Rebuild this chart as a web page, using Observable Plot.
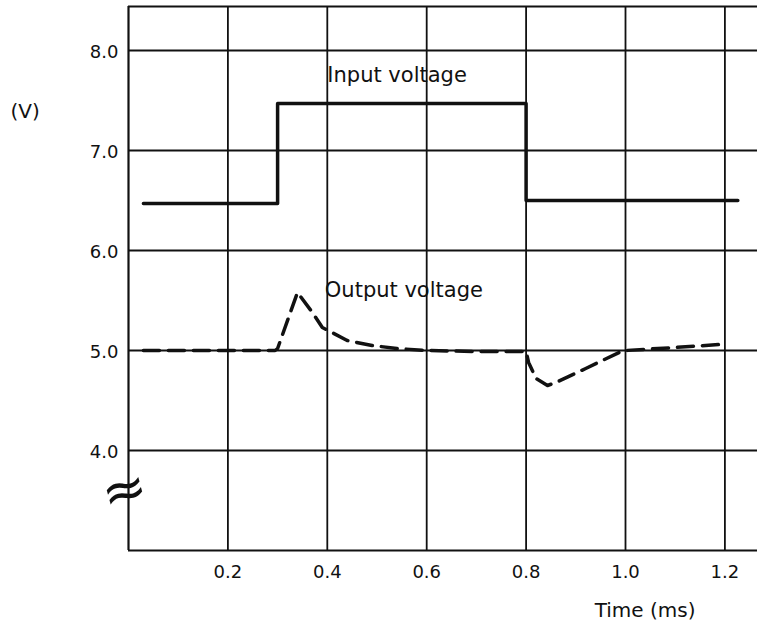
<!DOCTYPE html>
<html><head><meta charset="utf-8">
<script src="https://cdn.jsdelivr.net/npm/d3@7"></script>
<script src="https://cdn.jsdelivr.net/npm/@observablehq/plot@0.6"></script>
<style>body{margin:0;background:#fff}</style>
</head><body><div id="chart"></div>
<script>
const xTicks = [0.2, 0.4, 0.6, 0.8, 1.0, 1.2];
const yTicks = [4.0, 5.0, 6.0, 7.0, 8.0];
const inputT = [0.03, 0.3, 0.3, 0.8, 0.8, 1.226];
const inputV = [6.47, 6.47, 7.47, 7.47, 6.5, 6.5];
const outputT = [0.03, 0.295, 0.3, 0.34, 0.37, 0.39, 0.44, 0.49, 0.54, 0.6, 0.7, 0.8, 0.805, 0.82, 0.843, 0.86, 0.92, 0.987, 1.0, 1.1, 1.19];
const outputV = [5.0, 5.0, 5.02, 5.58, 5.38, 5.23, 5.1, 5.05, 5.02, 5.0, 4.99, 4.99, 4.88, 4.72, 4.65, 4.68, 4.82, 4.98, 5.0, 5.03, 5.06];
const labels = [
  {t: 0.4, v: 7.75, text: "Input voltage"},
  {t: 0.395, v: 5.6, text: "Output voltage"}
];

const input = inputT.map((t, i) => ({t, v: inputV[i]}));
const output = outputT.map((t, i) => ({t, v: outputV[i]}));
const xMax = (757 - 128) / 497;
const yMax = 8.44;

const chart = Plot.plot({
  width: 757, height: 628,
  marginLeft: 128, marginRight: 0, marginTop: 6, marginBottom: 78,
  style: {fontFamily: "'DejaVu Sans', sans-serif", fontSize: "18px", color: "#111", background: "#fff"},
  x: {domain: [0, xMax], ticks: xTicks},
  y: {domain: [3, yMax], ticks: yTicks},
  marks: [
    Plot.ruleX(xTicks, {stroke: "#111", strokeWidth: 1.8}),
    Plot.ruleY(yTicks, {stroke: "#111", strokeWidth: 1.8}),
    Plot.ruleX([0], {stroke: "#111", strokeWidth: 2.2}),
    Plot.ruleY([3, yMax], {stroke: "#111", strokeWidth: 2.2}),
    Plot.line(input, {x: "t", y: "v", stroke: "#111", strokeWidth: 3.5}),
    Plot.line(output, {x: "t", y: "v", stroke: "#111", strokeWidth: 3.5, strokeDasharray: "16,9"}),
    Plot.text(labels, {x: "t", y: "v", text: "text", textAnchor: "start", fontSize: 21, fill: "#111"}),
    Plot.axisX(xTicks, {tickSize: 0, tickPadding: 15, tickFormat: ".1f", fontSize: 18, label: null}),
    Plot.axisY(yTicks, {tickSize: 0, tickPadding: 10, dy: 2, tickFormat: ".1f", fontSize: 18, label: null}),
    Plot.text(["(V)"], {frameAnchor: "top-left", dx: -118, dy: 97, fontSize: 20, textAnchor: "start"}),
    Plot.text(["Time (ms)"], {frameAnchor: "bottom-right", dx: -62, dy: 66, fontSize: 20, textAnchor: "end"}),
    Plot.text(["≈"], {x: 0, y: 3.6, dx: -4, fontSize: 54, rotate: -15, fill: "#111"})
  ]
});
document.getElementById("chart").append(chart);
</script>
</body></html>
